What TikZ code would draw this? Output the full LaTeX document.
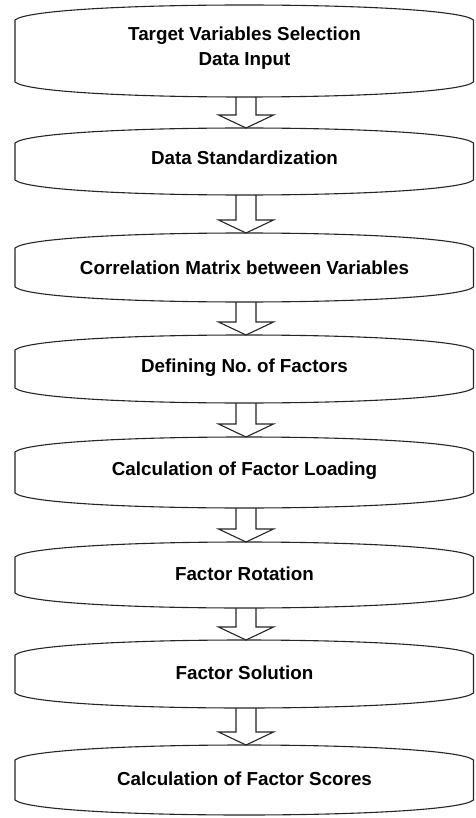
\documentclass[tikz,border=0pt]{standalone}
\usepackage{fontspec}
\setmainfont{Liberation Sans}
\usetikzlibrary{calc}
\frenchspacing
\tikzset{
  boxline/.style={draw=black!85, line width=1.1pt, line join=round},
  lbl/.style={inner sep=0pt, align=center, font=\fontsize{18.8}{25}\selectfont\bfseries},
  blockarrow/.style={draw=black!85, line width=1.1pt, line join=miter}
}
% #1 name, #2 top corner y, #3 bottom corner y, #4 text, #5 text y
\newcommand\flowbox[5]{%
  \draw[boxline] (15pt,-#2pt) .. controls (38pt,-#2pt+20pt) and (450.5pt,-#2pt+20pt) .. (473.5pt,-#2pt)
     -- (473.5pt,-#3pt) .. controls (450.5pt,-#3pt-20pt) and (38pt,-#3pt-20pt) .. (15pt,-#3pt) -- cycle;
  \node[lbl] (#1) at (244.5pt,-#5pt) {#4};
  \coordinate (#1t) at (246pt,-#2pt+15pt);
  \coordinate (#1b) at (246pt,-#3pt-15pt);
}
\newcommand\flowarrow[2]{%
  \draw[blockarrow] ($(#1b)+(-10pt,0)$) -- ($(#2t)+(-10pt,13pt)$) -- ($(#2t)+(-27.5pt,13pt)$)
    -- (#2t) -- ($(#2t)+(27.5pt,13pt)$) -- ($(#2t)+(10pt,13pt)$) -- ($(#1b)+(10pt,0)$);
}
\begin{document}
\begin{tikzpicture}[x=1pt,y=1pt]
  \fill[white] (0,0) rectangle (475,-818);
  \useasboundingbox (0,0) rectangle (475,-818);
  \flowbox{b1}{20}{82}{Target Variables Selection\\Data Input}{48.5}
  \flowbox{b2}{143}{180}{Data Standardization}{158}
  \flowbox{b3}{248}{287}{Correlation Matrix between Variables}{268}
  \flowbox{b4}{350}{388}{Defining No.\ of Factors}{368}
  \flowbox{b5}{452}{493}{Calculation of Factor Loading}{471}
  \flowbox{b6}{557}{593}{Factor Rotation}{574}
  \flowbox{b7}{655}{693}{Factor Solution}{673}
  \flowbox{b8}{760}{800}{Calculation of Factor Scores}{779}
  \flowarrow{b1}{b2}
  \flowarrow{b2}{b3}
  \flowarrow{b3}{b4}
  \flowarrow{b4}{b5}
  \flowarrow{b5}{b6}
  \flowarrow{b6}{b7}
  \flowarrow{b7}{b8}
\end{tikzpicture}
\end{document}
